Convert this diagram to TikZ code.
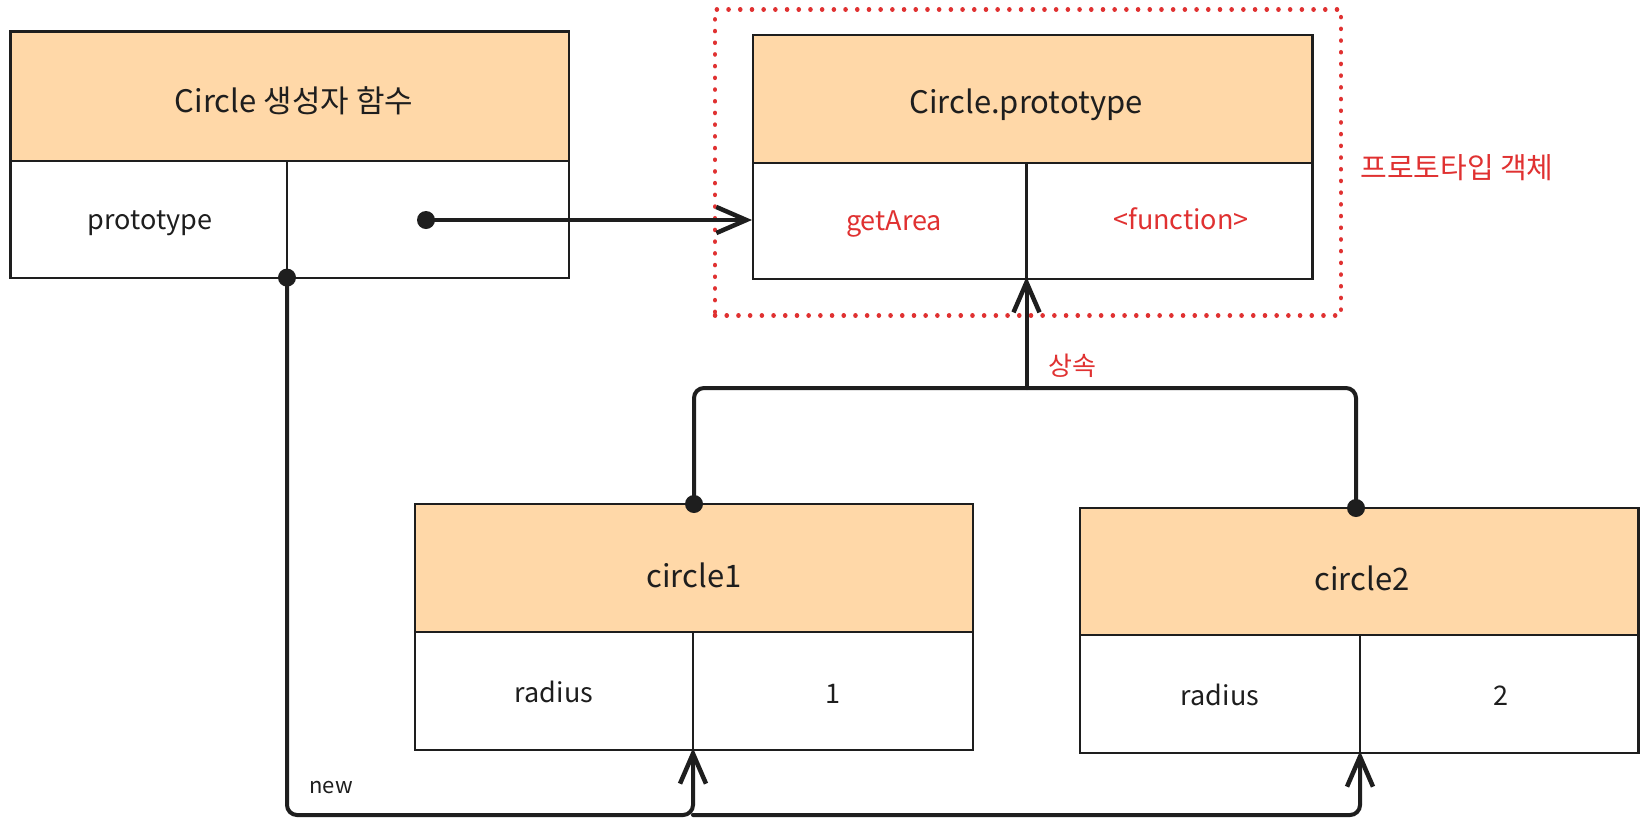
\documentclass[tikz,border=0pt]{standalone}
\usepackage{fontspec}
\setmainfont{Noto Sans CJK KR}
\usetikzlibrary{arrows.meta,calc}
\definecolor{hdrfill}{HTML}{FFD8A8}
\definecolor{ink}{HTML}{1E1E1E}
\definecolor{redx}{HTML}{E03131}
\tikzset{
  cellbox/.style={draw=ink, line width=2.2pt, inner sep=0pt, outer sep=0pt, fill=white, font=\fontsize{27}{30}\selectfont, text=ink},
  hdrbox/.style={cellbox, fill=hdrfill, font=\fontsize{31}{34}\selectfont},
  dotnode/.style={circle, fill=ink, inner sep=0pt, minimum size=18pt},
  conn/.style={draw=ink, line width=4pt, line cap=round},
  tipb/.style={-{Straight Barb[length=30pt,width=26pt,line width=4.5pt]}},
  protobox/.style={draw=redx, line width=4.5pt, line cap=round, dash pattern=on 0.1pt off 11.6pt, inner sep=0pt},
  redlabel/.style={text=redx, font=\fontsize{29}{32}\selectfont}
}
\begin{document}
\begin{tikzpicture}[x=1pt,y=-1pt]
\useasboundingbox (0,0) rectangle (1649,831);
\fill[white] (0,0) rectangle (1649,831);

% dotted frame
\node[protobox, minimum width=626pt, minimum height=306pt] (proto) at (1028,162.5) {};

% Box A: Circle constructor
\node[hdrbox, minimum width=558.5pt, minimum height=129.5pt] (aHead) at (289.75,96.25) {};
\node[font=\fontsize{31}{34}\selectfont, text=ink] (aTitle) at (294,101) {Circle 생성자 함수};
\node[cellbox, minimum width=276.5pt, minimum height=116.6pt] (aKey) at (148.75,219.3) {};
\node[font=\fontsize{27}{30}\selectfont, text=ink] (aKeyText) at (150,223) {prototype};
\node[cellbox, minimum width=282pt, minimum height=116.6pt] (aVal) at (428,219.3) {};

% Box B: Circle.prototype
\node[hdrbox, minimum width=559.5pt, minimum height=128.3pt] (bHead) at (1032.75,98.85) {};
\node[font=\fontsize{31}{34}\selectfont, text=ink] (bTitle) at (1026,105) {Circle.prototype};
\node[cellbox, minimum width=273.5pt, minimum height=115.7pt] (bKey) at (889.75,220.85) {};
\node[font=\fontsize{27}{30}\selectfont, text=redx] (bKeyText) at (894,224) {getArea};
\node[cellbox, minimum width=286pt, minimum height=115.7pt] (bVal) at (1169.5,220.85) {};
\node[font=\fontsize{27}{30}\selectfont, text=redx] (bValText) at (1181,219) {<function>};

% circle1
\node[hdrbox, minimum width=558pt, minimum height=128pt] (cAHead) at (694,568) {};
\node[font=\fontsize{31}{34}\selectfont, text=ink] (cATitle) at (694,575) {circle1};
\node[cellbox, minimum width=278pt, minimum height=118pt] (cAKey) at (554,691) {};
\node[font=\fontsize{27}{30}\selectfont, text=ink] (cAKeyText) at (554,692) {radius};
\node[cellbox, minimum width=280pt, minimum height=118pt] (cAVal) at (833,691) {};
\node[font=\fontsize{27}{30}\selectfont, text=ink] (cAValText) at (833,694) {1};

% circle2
\node[hdrbox, minimum width=558.5pt, minimum height=127pt] (cBHead) at (1359.25,571.5) {};
\node[font=\fontsize{31}{34}\selectfont, text=ink] (cBTitle) at (1362,578) {circle2};
\node[cellbox, minimum width=280pt, minimum height=118pt] (cBKey) at (1220,694) {};
\node[font=\fontsize{27}{30}\selectfont, text=ink] (cBKeyText) at (1220,695) {radius};
\node[cellbox, minimum width=278.5pt, minimum height=118pt] (cBVal) at (1499.25,694) {};
\node[font=\fontsize{27}{30}\selectfont, text=ink] (cBValText) at (1501,696) {2};

% labels
\node[redlabel, anchor=center] (protoLabel) at (1457,168) {프로토타입 객체};
\node[redlabel, font=\fontsize{26}{29}\selectfont, anchor=center] (inhLabel) at (1072,366) {상속};
\node[text=ink, font=\fontsize{22}{26}\selectfont] (newLabel) at (331,788) {new};

% dots
\node[dotnode] (aDot) at (426,220) {};
\node[dotnode] (aBot) at (aKey.south east) {};
\node[dotnode] (cADot) at (cAHead.north) {};
\node[dotnode] (cBDot) at (1356,508) {};

% prototype link
\draw[conn, tipb] (aDot.center) -- ([xshift=-1pt]aDot -| bKey.west);

% inheritance
\coordinate (inhY) at (0,388);
\coordinate (inh) at (bKey.south east |- inhY);
\draw[conn, rounded corners=10pt] (cADot.center) |- (inh) -| (cBDot.center);
\draw[conn, tipb] (inh) -- ([yshift=2pt]bKey.south east);

% new
\coordinate (newY) at (0,815);
\coordinate (newA) at (cAKey.south east |- newY);
\draw[conn, rounded corners=10pt, tipb] (aBot.center) |- (newA) -- ([yshift=2pt]cAKey.south east);
\draw[conn, rounded corners=10pt, tipb] (newA) -| ([yshift=2pt]cBKey.south east);
\end{tikzpicture}
\end{document}
